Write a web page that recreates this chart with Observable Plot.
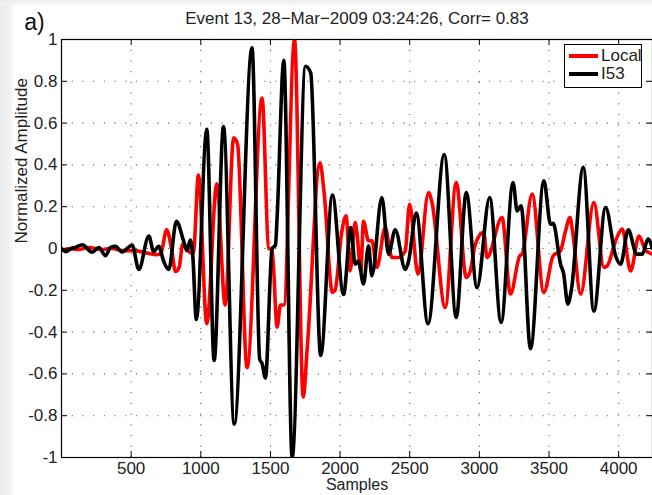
<!DOCTYPE html>
<html>
<head>
<meta charset="utf-8">
<script src="https://cdn.jsdelivr.net/npm/d3@7"></script>
<script src="https://cdn.jsdelivr.net/npm/@observablehq/plot@0.6"></script>
<style>
  html, body { margin: 0; padding: 0; background: #fff; }
  #wrap { position: relative; width: 652px; height: 495px; overflow: hidden;
    background: linear-gradient(to bottom, #ececec 0, #f4f4f4 4px, rgba(255,255,255,0) 5px),
                linear-gradient(to right, #e9e9e9 0, #f3f3f3 11px, #ffffff 13px); }
  #wrap svg { position: absolute; left: 0; top: 0; }
  #legend { position: absolute; left: 564px; top: 44px; width: 76px; height: 42px;
    border: 1px solid #000; background: #fff; font: 17px "Liberation Sans", Arial, sans-serif; }
  .row { position: absolute; left: 4px; height: 18px; display: flex; align-items: center; }
  .sw { width: 29px; height: 4px; margin-right: 3px; }
</style>
</head>
<body>
<div id="wrap"></div>
<script>
// ---- data ----
const titleText = "Event 13, 28\u2212Mar\u22122009 03:24:26, Corr= 0.83";
const panelLabel = "a)";
const seriesNames = ["Local", "I53"];
const seriesColors = ["#ff0000", "#000000"];
const xTicks = [500, 1000, 1500, 2000, 2500, 3000, 3500, 4000];
const yTicks = [-1, -0.8, -0.6, -0.4, -0.2, 0, 0.2, 0.4, 0.6, 0.8, 1];
const xMax = 4243;

// [sample, normalized amplitude]
const localWave = [[0,-0.01],[60,0.0],[120,-0.005],[200,0.005],[280,-0.005],[360,0.0],[440,-0.01],[520,-0.01],[600,-0.02],[687,-0.03],[715,-0.02],[755,0.09],[790,0.0],[818,-0.11],[845,-0.09],[870,0.02],[900,0.0],[925,-0.02],[947,-0.02],[983,0.352],[1043,-0.36],[1115,0.31],[1175,-0.27],[1236,0.53],[1264,0.5],[1332,-0.57],[1440,0.72],[1488,0.0],[1512,-0.005],[1548,-0.376],[1572,-0.27],[1596,-0.27],[1673,1.0],[1735,-0.71],[1765,-0.47],[1856,0.41],[1885,0.27],[1945,-0.21],[1964,-0.2],[2010,0.07],[2043,0.156],[2072,-0.107],[2108,0.124],[2120,0.08],[2149,-0.107],[2168,0.13],[2204,0.037],[2228,0.037],[2264,-0.09],[2324,0.1],[2372,-0.043],[2420,-0.043],[2468,-0.011],[2499,0.212],[2559,-0.123],[2635,0.268],[2660,0.22],[2755,-0.282],[2834,0.316],[2906,-0.139],[2935,-0.107],[2971,0.02],[3031,0.077],[3055,-0.043],[3163,0.148],[3223,-0.218],[3290,-0.035],[3307,-0.027],[3379,0.26],[3463,-0.21],[3530,-0.035],[3583,-0.01],[3619,0.085],[3650,0.148],[3667,0.093],[3727,-0.218],[3822,0.22],[3894,-0.09],[3918,-0.083],[3978,0.037],[4026,0.093],[4086,-0.107],[4146,0.06],[4194,-0.01],[4243,-0.027]];

const i53Wave = [[0,0.0],[30,-0.015],[70,0.0],[100,0.005],[150,0.018],[220,-0.018],[268,0.005],[316,-0.034],[352,0.005],[388,0.01],[435,-0.017],[471,0.0],[507,0.017],[555,-0.1],[627,0.06],[662,-0.015],[698,0.01],[735,-0.064],[770,-0.1],[825,0.13],[875,0.04],[900,-0.01],[925,0.04],[942,-0.03],[968,-0.34],[1043,0.57],[1096,-0.536],[1163,0.584],[1240,-0.84],[1368,0.96],[1423,-0.53],[1440,-0.55],[1464,-0.62],[1512,0.0],[1536,0.016],[1548,0.15],[1596,0.9],[1656,-1.0],[1752,0.872],[1789,0.84],[1861,-0.512],[1945,0.256],[2025,-0.22],[2077,0.10],[2108,-0.075],[2132,-0.06],[2168,-0.17],[2204,0.013],[2228,-0.13],[2300,0.244],[2348,-0.027],[2396,0.09],[2468,-0.1],[2492,-0.06],[2547,0.17],[2631,-0.36],[2748,0.45],[2834,-0.33],[2906,0.268],[2983,-0.187],[3074,0.244],[3156,-0.354],[3242,0.316],[3271,0.18],[3300,0.204],[3367,-0.48],[3463,0.324],[3511,0.116],[3530,0.12],[3583,-0.075],[3605,-0.12],[3635,-0.266],[3660,-0.2],[3746,0.388],[3822,-0.3],[3906,0.196],[3978,-0.035],[4014,-0.075],[4069,0.09],[4129,-0.027],[4170,-0.027],[4211,0.045],[4243,0.0]];

// ---- layout ----
const W = 652, H = 495, mL = 61, mR = 0, mT = 39, mB = 38;
const frameW = W - mL - mR, frameH = H - mT - mB;
const tickLen = 6;
const font = "'Liberation Sans', Arial, Helvetica, sans-serif";
const gridY = yTicks.filter(d => Math.abs(d) < 1);
const fmtY = d => String(Math.round(d * 10) / 10);

const chart = Plot.plot({
  width: W, height: H,
  marginLeft: mL, marginRight: mR, marginTop: mT, marginBottom: mB,
  x: {domain: [0, xMax]},
  y: {domain: [-1, 1]},
  style: {fontFamily: font, fontSize: "17px", background: "transparent", color: "#222", overflow: "visible"},
  marks: [
    Plot.ruleX(xTicks, {x: d => d, stroke: "#666", strokeWidth: 1.1, strokeDasharray: "1.2,9.5"}),
    Plot.ruleY(gridY, {y: d => d, stroke: "#666", strokeWidth: 1.1, strokeDasharray: "1.2,9.5"}),
    Plot.line(localWave, {x: d => d[0], y: d => d[1], stroke: seriesColors[0], strokeWidth: 3.6, curve: "monotone-x", clip: true}),
    Plot.line(i53Wave, {x: d => d[0], y: d => d[1], stroke: seriesColors[1], strokeWidth: 3.6, curve: "monotone-x", clip: true}),
    Plot.frame({stroke: "#000", strokeWidth: 1.2}),
    Plot.tickX(xTicks, {x: d => d, stroke: "#000", insetTop: frameH - tickLen}),
    Plot.tickX(xTicks, {x: d => d, stroke: "#000", insetBottom: frameH - tickLen}),
    Plot.tickY(yTicks, {y: d => d, stroke: "#000", insetRight: frameW - tickLen}),
    Plot.tickY(yTicks, {y: d => d, stroke: "#000", insetLeft: frameW - tickLen}),
    Plot.axisX({ticks: xTicks, tickSize: 0, tickPadding: 4, tickFormat: d => String(d), label: null, fontSize: 17, fill: "#222"}),
    Plot.axisY({ticks: yTicks, tickSize: 0, tickPadding: 4, tickFormat: fmtY, label: null, fontSize: 17, fill: "#222"}),
    Plot.text([titleText], {frameAnchor: "top", dy: -28, text: d => d, fontSize: 17, fill: "#222"}),
    Plot.text([panelLabel], {frameAnchor: "top-left", dx: -27, dy: -26, text: d => d, fontSize: 23, textAnchor: "middle", fill: "#111"}),
    Plot.text(["Normalized Amplitude"], {frameAnchor: "left", dx: -40, dy: -5, rotate: -90, text: d => d, fontSize: 17, fill: "#222"}),
    Plot.text(["Samples"], {frameAnchor: "bottom", dy: 32, text: d => d, fontSize: 16, fill: "#222"})
  ]
});

const wrap = document.getElementById("wrap");
wrap.appendChild(chart);

// legend
const legend = document.createElement("div");
legend.id = "legend";
seriesNames.forEach((name, i) => {
  const row = document.createElement("div");
  row.className = "row";
  row.style.top = (2 + i * 18) + "px";
  const sw = document.createElement("span");
  sw.className = "sw";
  sw.style.background = seriesColors[i];
  const lab = document.createElement("span");
  lab.textContent = name;
  lab.style.color = "#222";
  row.appendChild(sw);
  row.appendChild(lab);
  legend.appendChild(row);
});
wrap.appendChild(legend);
</script>
</body>
</html>
